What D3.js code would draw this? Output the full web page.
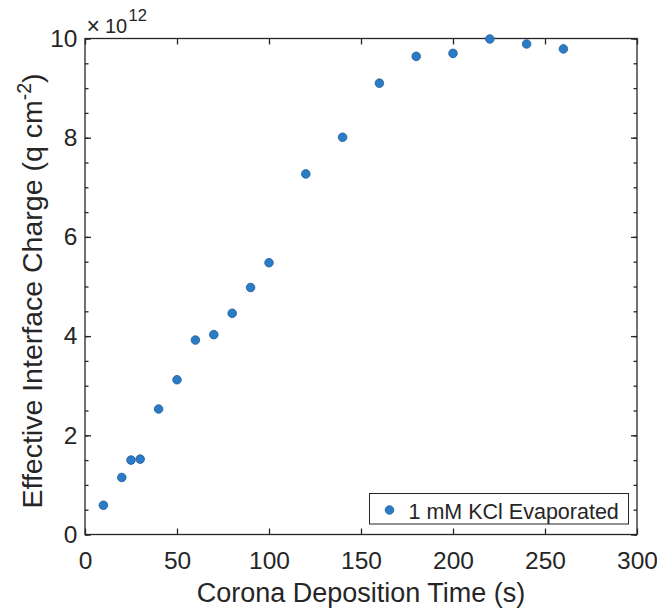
<!DOCTYPE html>
<html>
<head>
<meta charset="utf-8">
<script src="https://cdn.jsdelivr.net/npm/d3@7"></script>
<style>
  html, body { margin: 0; padding: 0; background: #fff; }
  text { font-family: "Liberation Sans", Arial, Helvetica, sans-serif; fill: #262626; }
</style>
</head>
<body>
<svg id="chart" width="657" height="610"></svg>
<script>
// Corona deposition time (s)
const times = [10, 20, 25, 30, 40, 50, 60, 70, 80, 90, 100, 120, 140, 160, 180, 200, 220, 240, 260];
// Effective interface charge, in units of 1e12 q cm^-2
const charges = [0.59, 1.15, 1.50, 1.52, 2.53, 3.12, 3.92, 4.03, 4.46, 4.98, 5.48, 7.27, 8.01, 9.10, 9.64, 9.70, 9.99, 9.89, 9.79];
const xTicks = [0, 50, 100, 150, 200, 250, 300];
const yTicks = [0, 2, 4, 6, 8, 10];
const yMinorTicks = d3.range(0, 10.01, 0.5);
const seriesName = "1 mM KCl Evaporated";

const svg = d3.select("#chart");
const plotLeft = 85, plotRight = 637, plotTop = 38.5, plotBottom = 534.5;
const axisColor = "#262626";
const tickFont = 24.5;

const x = d3.scaleLinear().domain([0, 300]).range([plotLeft, plotRight]);
const y = d3.scaleLinear().domain([0, 10]).range([plotBottom, plotTop]);

// frame
svg.append("rect")
  .attr("x", plotLeft).attr("y", plotTop)
  .attr("width", plotRight - plotLeft).attr("height", plotBottom - plotTop)
  .attr("fill", "none").attr("stroke", axisColor).attr("stroke-width", 1.3);

// bottom axis with labels
const xAxis = svg.append("g").attr("transform", `translate(0,${plotBottom})`)
  .call(d3.axisBottom(x).tickValues(xTicks).tickSize(-6).tickPadding(17));
// top ticks
const xAxisTop = svg.append("g").attr("transform", `translate(0,${plotTop})`)
  .call(d3.axisTop(x).tickValues(xTicks).tickSize(-6).tickFormat(""));
// left axis
const yAxis = svg.append("g").attr("transform", `translate(${plotLeft},0)`)
  .call(d3.axisLeft(y).tickValues(yTicks).tickSize(-6).tickPadding(7.5));
const yAxisRight = svg.append("g").attr("transform", `translate(${plotRight},0)`)
  .call(d3.axisRight(y).tickValues(yTicks).tickSize(-6).tickFormat(""));
// minor ticks on both vertical sides
const yMinorL = svg.append("g").attr("transform", `translate(${plotLeft},0)`)
  .call(d3.axisLeft(y).tickValues(yMinorTicks).tickSize(-3.5).tickFormat(""));
const yMinorR = svg.append("g").attr("transform", `translate(${plotRight},0)`)
  .call(d3.axisRight(y).tickValues(yMinorTicks).tickSize(-3.5).tickFormat(""));

[xAxis, xAxisTop, yAxis, yAxisRight, yMinorL, yMinorR].forEach(g => {
  g.select(".domain").remove();
  g.selectAll("line").attr("stroke", axisColor).attr("stroke-width", 1.3);
  g.selectAll("text").attr("font-size", tickFont).attr("fill", axisColor)
    .style("font-family", "'Liberation Sans', Arial, sans-serif");
});

// exponent label above the y axis
const expo = svg.append("text").attr("y", 33.3).attr("font-size", 20);
expo.append("tspan").attr("x", 86.5).attr("font-size", 23).attr("dy", 0.5).text("\u00d7");
expo.append("tspan").attr("x", 105).attr("dy", -0.5).text("10");
expo.append("tspan").attr("x", 128.5).attr("font-size", 16.5).attr("dy", -12.5).text("12");

// axis titles
svg.append("text")
  .attr("x", 361).attr("y", 601.5)
  .attr("text-anchor", "middle").attr("font-size", 27)
  .text("Corona Deposition Time (s)");

const yl = svg.append("text")
  .attr("transform", `translate(41.5,291) rotate(-90)`)
  .attr("text-anchor", "middle").attr("font-size", 28.5);
yl.append("tspan").text("Effective Interface Charge (q cm");
yl.append("tspan").attr("font-size", 19.5).attr("dy", -11).text("-2");
yl.append("tspan").attr("dy", 11).text(")");

// data points
const fill = "#2b7bc6", stroke = "#1d5c98";
svg.append("g").selectAll("circle")
  .data(times.map((t, i) => [t, charges[i]]))
  .join("circle")
  .attr("cx", d => x(d[0])).attr("cy", d => y(d[1]))
  .attr("r", 4.3)
  .attr("fill", fill).attr("stroke", stroke).attr("stroke-width", 0.8);

// legend
const lg = svg.append("g");
lg.append("rect")
  .attr("x", 369.5).attr("y", 493.5).attr("width", 259).attr("height", 30.5)
  .attr("fill", "#fff").attr("stroke", axisColor).attr("stroke-width", 1);
lg.append("circle").attr("cx", 389.5).attr("cy", 510).attr("r", 4.3)
  .attr("fill", fill).attr("stroke", stroke).attr("stroke-width", 0.8);
lg.append("text").attr("x", 408.5).attr("y", 519).attr("font-size", 21.5).text(seriesName);
</script>
</body>
</html>
